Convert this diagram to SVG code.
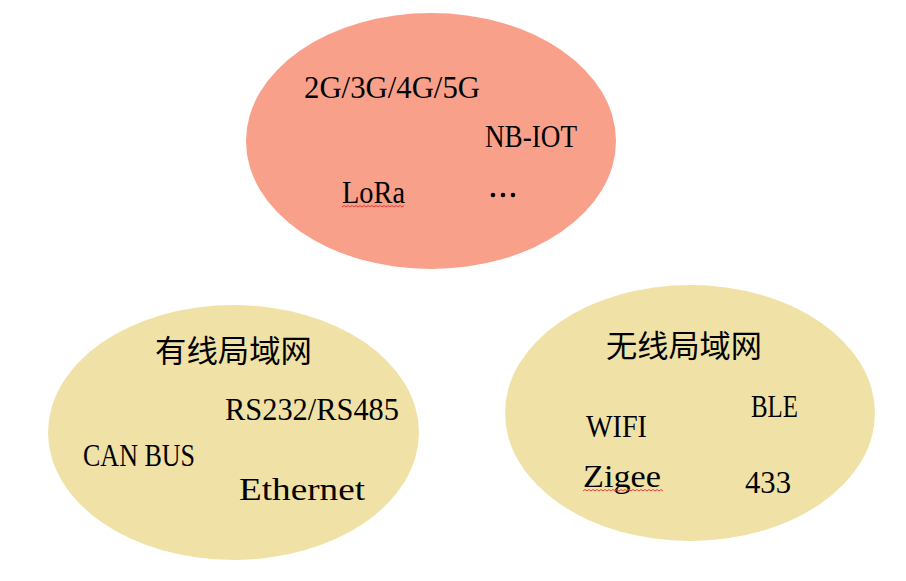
<svg xmlns="http://www.w3.org/2000/svg" width="906" height="581" viewBox="0 0 906 581">
<style>
.lat{font-family:"Liberation Serif","Noto Serif",serif;font-size:32px;fill:#000}
.cjk{font-family:"Noto Sans CJK SC","Noto Sans",sans-serif;font-size:31px;fill:#000}
.wavy{fill:none;stroke:#e0403a;stroke-width:1}
</style>
<rect width="906" height="581" fill="#fff"/>
<g id="wan">
<ellipse cx="431" cy="141" rx="185" ry="128" fill="#F9A08A"/>
<text class="lat" x="304" y="98" textLength="176" lengthAdjust="spacingAndGlyphs">2G/3G/4G/5G</text>
<text class="lat" x="485" y="147" textLength="92" lengthAdjust="spacingAndGlyphs">NB-IOT</text>
<text class="lat" x="342" y="203" textLength="63" lengthAdjust="spacingAndGlyphs">LoRa</text>
<path class="wavy" d="M342 207 l2 -1.5 l2 1.5 l2 -1.5 l2 1.5 l2 -1.5 l2 1.5 l2 -1.5 l2 1.5 l2 -1.5 l2 1.5 l2 -1.5 l2 1.5 l2 -1.5 l2 1.5 l2 -1.5 l2 1.5 l2 -1.5 l2 1.5 l2 -1.5 l2 1.5 l2 -1.5 l2 1.5 l2 -1.5 l2 1.5 l2 -1.5 l2 1.5 l2 -1.5 l2 1.5 l2 -1.5 l2 1.5 l2 -1.5"/>
<circle cx="493" cy="195" r="2.3" fill="#000"/>
<circle cx="503" cy="195" r="2.3" fill="#000"/>
<circle cx="513" cy="195" r="2.3" fill="#000"/>
</g>
<g id="wired-lan">
<ellipse cx="233.5" cy="432.5" rx="185.5" ry="127.5" fill="#F0E2A6"/>
<text class="cjk" x="155" y="362" textLength="157" lengthAdjust="spacingAndGlyphs">有线局域网</text>
<text class="lat" x="225" y="420" textLength="174" lengthAdjust="spacingAndGlyphs">RS232/RS485</text>
<text class="lat" x="83" y="466" textLength="112" lengthAdjust="spacingAndGlyphs">CAN BUS</text>
<text class="lat" x="239" y="500" textLength="126" lengthAdjust="spacingAndGlyphs">Ethernet</text>
</g>
<g id="wireless-lan">
<ellipse cx="690" cy="413" rx="185" ry="128" fill="#F0E2A6"/>
<text class="cjk" x="606" y="357" textLength="156" lengthAdjust="spacingAndGlyphs">无线局域网</text>
<text class="lat" x="751" y="417" textLength="47" lengthAdjust="spacingAndGlyphs">BLE</text>
<text class="lat" x="586" y="437" textLength="61" lengthAdjust="spacingAndGlyphs">WIFI</text>
<text class="lat" x="583" y="487" textLength="78" lengthAdjust="spacingAndGlyphs">Zigee</text>
<path class="wavy" d="M583 491 l2 -1.5 l2 1.5 l2 -1.5 l2 1.5 l2 -1.5 l2 1.5 l2 -1.5 l2 1.5 l2 -1.5 l2 1.5 l2 -1.5 l2 1.5 l2 -1.5 l2 1.5 l2 -1.5 l2 1.5 l2 -1.5 l2 1.5 l2 -1.5 l2 1.5 l2 -1.5 l2 1.5 l2 -1.5 l2 1.5 l2 -1.5 l2 1.5 l2 -1.5 l2 1.5 l2 -1.5 l2 1.5 l2 -1.5 l2 1.5 l2 -1.5 l2 1.5 l2 -1.5 l2 1.5 l2 -1.5 l2 1.5 l2 -1.5 l2 1.5"/>
<text class="lat" x="745" y="493" textLength="46" lengthAdjust="spacingAndGlyphs">433</text>
</g>
<g id="connectors"/>
</svg>
